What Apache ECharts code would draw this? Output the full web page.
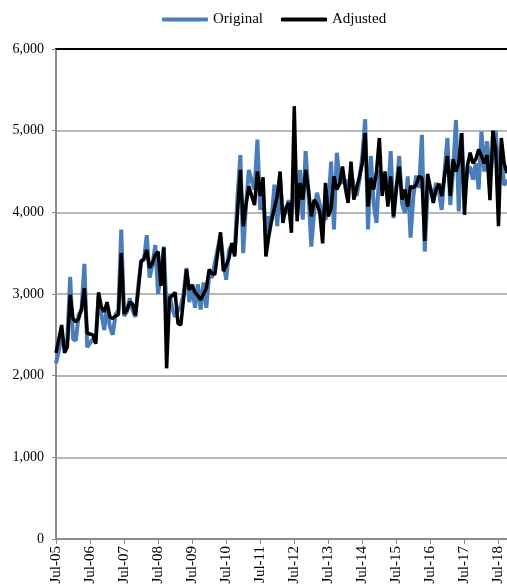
<!DOCTYPE html>
<html>
<head>
<meta charset="utf-8">
<script src="https://cdn.jsdelivr.net/npm/echarts@6/dist/echarts.min.js"></script>
<style>
  html, body { margin: 0; padding: 0; background: #fff; }
  #chart { width: 507px; height: 588px; }
</style>
</head>
<body>
<div id="chart"></div>
<script>
// monthly, Jul-05 .. Oct-18
const monthNames = ['Jan', 'Feb', 'Mar', 'Apr', 'May', 'Jun', 'Jul', 'Aug', 'Sep', 'Oct', 'Nov', 'Dec'];
const months = [];
for (let k = 0; k < 160; k++) {
    const m = (6 + k) % 12;
    const y = 5 + Math.floor((6 + k) / 12);
    months.push(monthNames[m] + '-' + String(y).padStart(2, '0'));
}

const original = [
    2150, 2300, 2500, 2350, 2450, 3210, 2450, 2430, 2750, 2800, 3370, 2350,
    2400, 2450, 2420, 2970, 2750, 2560, 2850, 2600, 2500, 2750, 2800, 3790,
    2730, 2780, 2950, 2800, 2720, 3100, 3400, 3420, 3720, 3200, 3350, 3600,
    3000, 3250, 3580, 2800, 3000, 2820, 2720, 2800, 2850, 3000, 3320, 2900,
    3120, 2830, 3120, 2810, 3140, 2830, 3240, 3200, 3380, 3550, 3710, 3400,
    3175, 3540, 3600, 3500, 4200, 4700, 3500, 4100, 4520, 4380, 4280, 4890,
    4030, 4300, 3665, 3950, 3900, 4340, 3830, 4400, 3950, 4000, 4150, 4000,
    4280, 3990, 4520, 3910, 4750, 4240, 3580, 4000, 4240, 4100, 3950, 3910,
    4070, 4620, 3790, 4730, 4400, 4360, 4400, 4300, 4500, 4320, 4200, 4400,
    4700, 5140, 3790, 4690, 4100, 3870, 4520, 4280, 4400, 4150, 4750, 3930,
    4300, 4690, 4110, 3990, 4440, 3690, 4200, 4450, 4300, 4950, 3520, 4240,
    4300, 4155, 4360, 4250, 4030, 4500, 4910, 4090, 4500, 5130, 4010, 4970,
    4240, 4480, 4560, 4400, 4600, 4280, 4990, 4500, 4870, 4400, 4700, 5000,
    4500, 4690, 4330, 4400
];

const adjusted = [
    2280, 2450, 2620, 2280, 2350, 2990, 2700, 2660, 2700, 2820, 3070, 2520,
    2510, 2500, 2390, 3020, 2840, 2780, 2900, 2720, 2700, 2730, 2750, 3500,
    2760, 2800, 2900, 2880, 2740, 3050, 3400, 3430, 3540, 3320, 3380, 3480,
    3520, 3100, 3570, 2090, 2950, 2980, 3020, 2640, 2620, 2950, 3300, 3050,
    3110, 3020, 2980, 2930, 3000, 3070, 3300, 3250, 3240, 3500, 3755, 3280,
    3350, 3440, 3625, 3460, 4000, 4520, 3830, 4100, 4320, 4200, 4090, 4500,
    4200, 4430, 3460, 3700, 3900, 4050, 4200, 4500, 3870, 4050, 4115, 3750,
    5300, 3890, 4360, 4155, 4520, 4280, 3950, 4155, 4100, 4000, 3620, 4360,
    3950, 4050, 4440, 4280, 4350, 4560, 4300, 4115, 4620, 4155, 4300, 4440,
    4600, 4970, 4070, 4420, 4280, 4500, 4910, 4200, 4500, 4070, 4440, 3950,
    4300, 4560, 4155, 4280, 4070, 4320, 4300, 4340, 4440, 4420, 3650, 4470,
    4300, 4115, 4280, 4350, 4200, 4450, 4690, 4200, 4650, 4500, 4600, 4970,
    3970, 4560, 4730, 4600, 4650, 4770, 4690, 4600, 4700, 4150, 5000, 4770,
    3830, 4910, 4600, 4480
];

const yTicks = [0, 1000, 2000, 3000, 4000, 5000, 6000];

const chart = echarts.init(document.getElementById('chart'));
const serif = '"Liberation Serif", "DejaVu Serif", serif';

const option = {
    animation: false,
    textStyle: { fontFamily: serif },
    legend: {
        top: 7,
        left: 157,
        itemWidth: 46,
        itemHeight: 4,
        itemGap: 18,
        icon: 'roundRect',
        textStyle: { fontFamily: serif, fontSize: 15, color: '#000' },
        data: ['Original', 'Adjusted']
    },
    grid: { left: 56, right: 0, top: 49, bottom: 49 },
    xAxis: [{
        type: 'category',
        data: months,
        boundaryGap: false,
        axisLine: { lineStyle: { color: '#8c8c8c', width: 2 } },
        axisTick: {
            length: 5,
            lineStyle: { color: '#8c8c8c' },
            interval: (idx) => idx % 12 === 0
        },
        axisLabel: {
            rotate: 90,
            margin: 7,
            fontFamily: serif,
            fontSize: 15,
            color: '#000',
            interval: (idx) => idx % 12 === 0
        },
        splitLine: { show: false }
    }, {
        type: 'category',
        data: months,
        position: 'top',
        boundaryGap: false,
        axisLine: { lineStyle: { color: '#000', width: 2 } },
        axisTick: { show: false },
        axisLabel: { show: false }
    }],
    yAxis: {
        type: 'value',
        min: yTicks[0],
        max: yTicks[yTicks.length - 1],
        interval: 1000,
        axisLine: { show: true, lineStyle: { color: '#8c8c8c', width: 2 } },
        axisTick: { show: true, length: 4, lineStyle: { color: '#8c8c8c' } },
        axisLabel: {
            margin: 12,
            fontFamily: serif,
            fontSize: 14,
            color: '#000',
            formatter: (v) => v.toLocaleString('en-US')
        },
        splitLine: { lineStyle: { color: '#a0a0a0', width: 1.5 } }
    },
    series: [{
        name: 'Original',
        type: 'line',
        data: original,
        symbol: 'none',
        color: '#4a7ebb',
        lineStyle: { width: 4, color: '#4a7ebb' }
    }, {
        name: 'Adjusted',
        type: 'line',
        data: adjusted,
        symbol: 'none',
        color: '#000',
        lineStyle: { width: 3.5, color: '#000' }
    }]
};

chart.setOption(option);
</script>
</body>
</html>
